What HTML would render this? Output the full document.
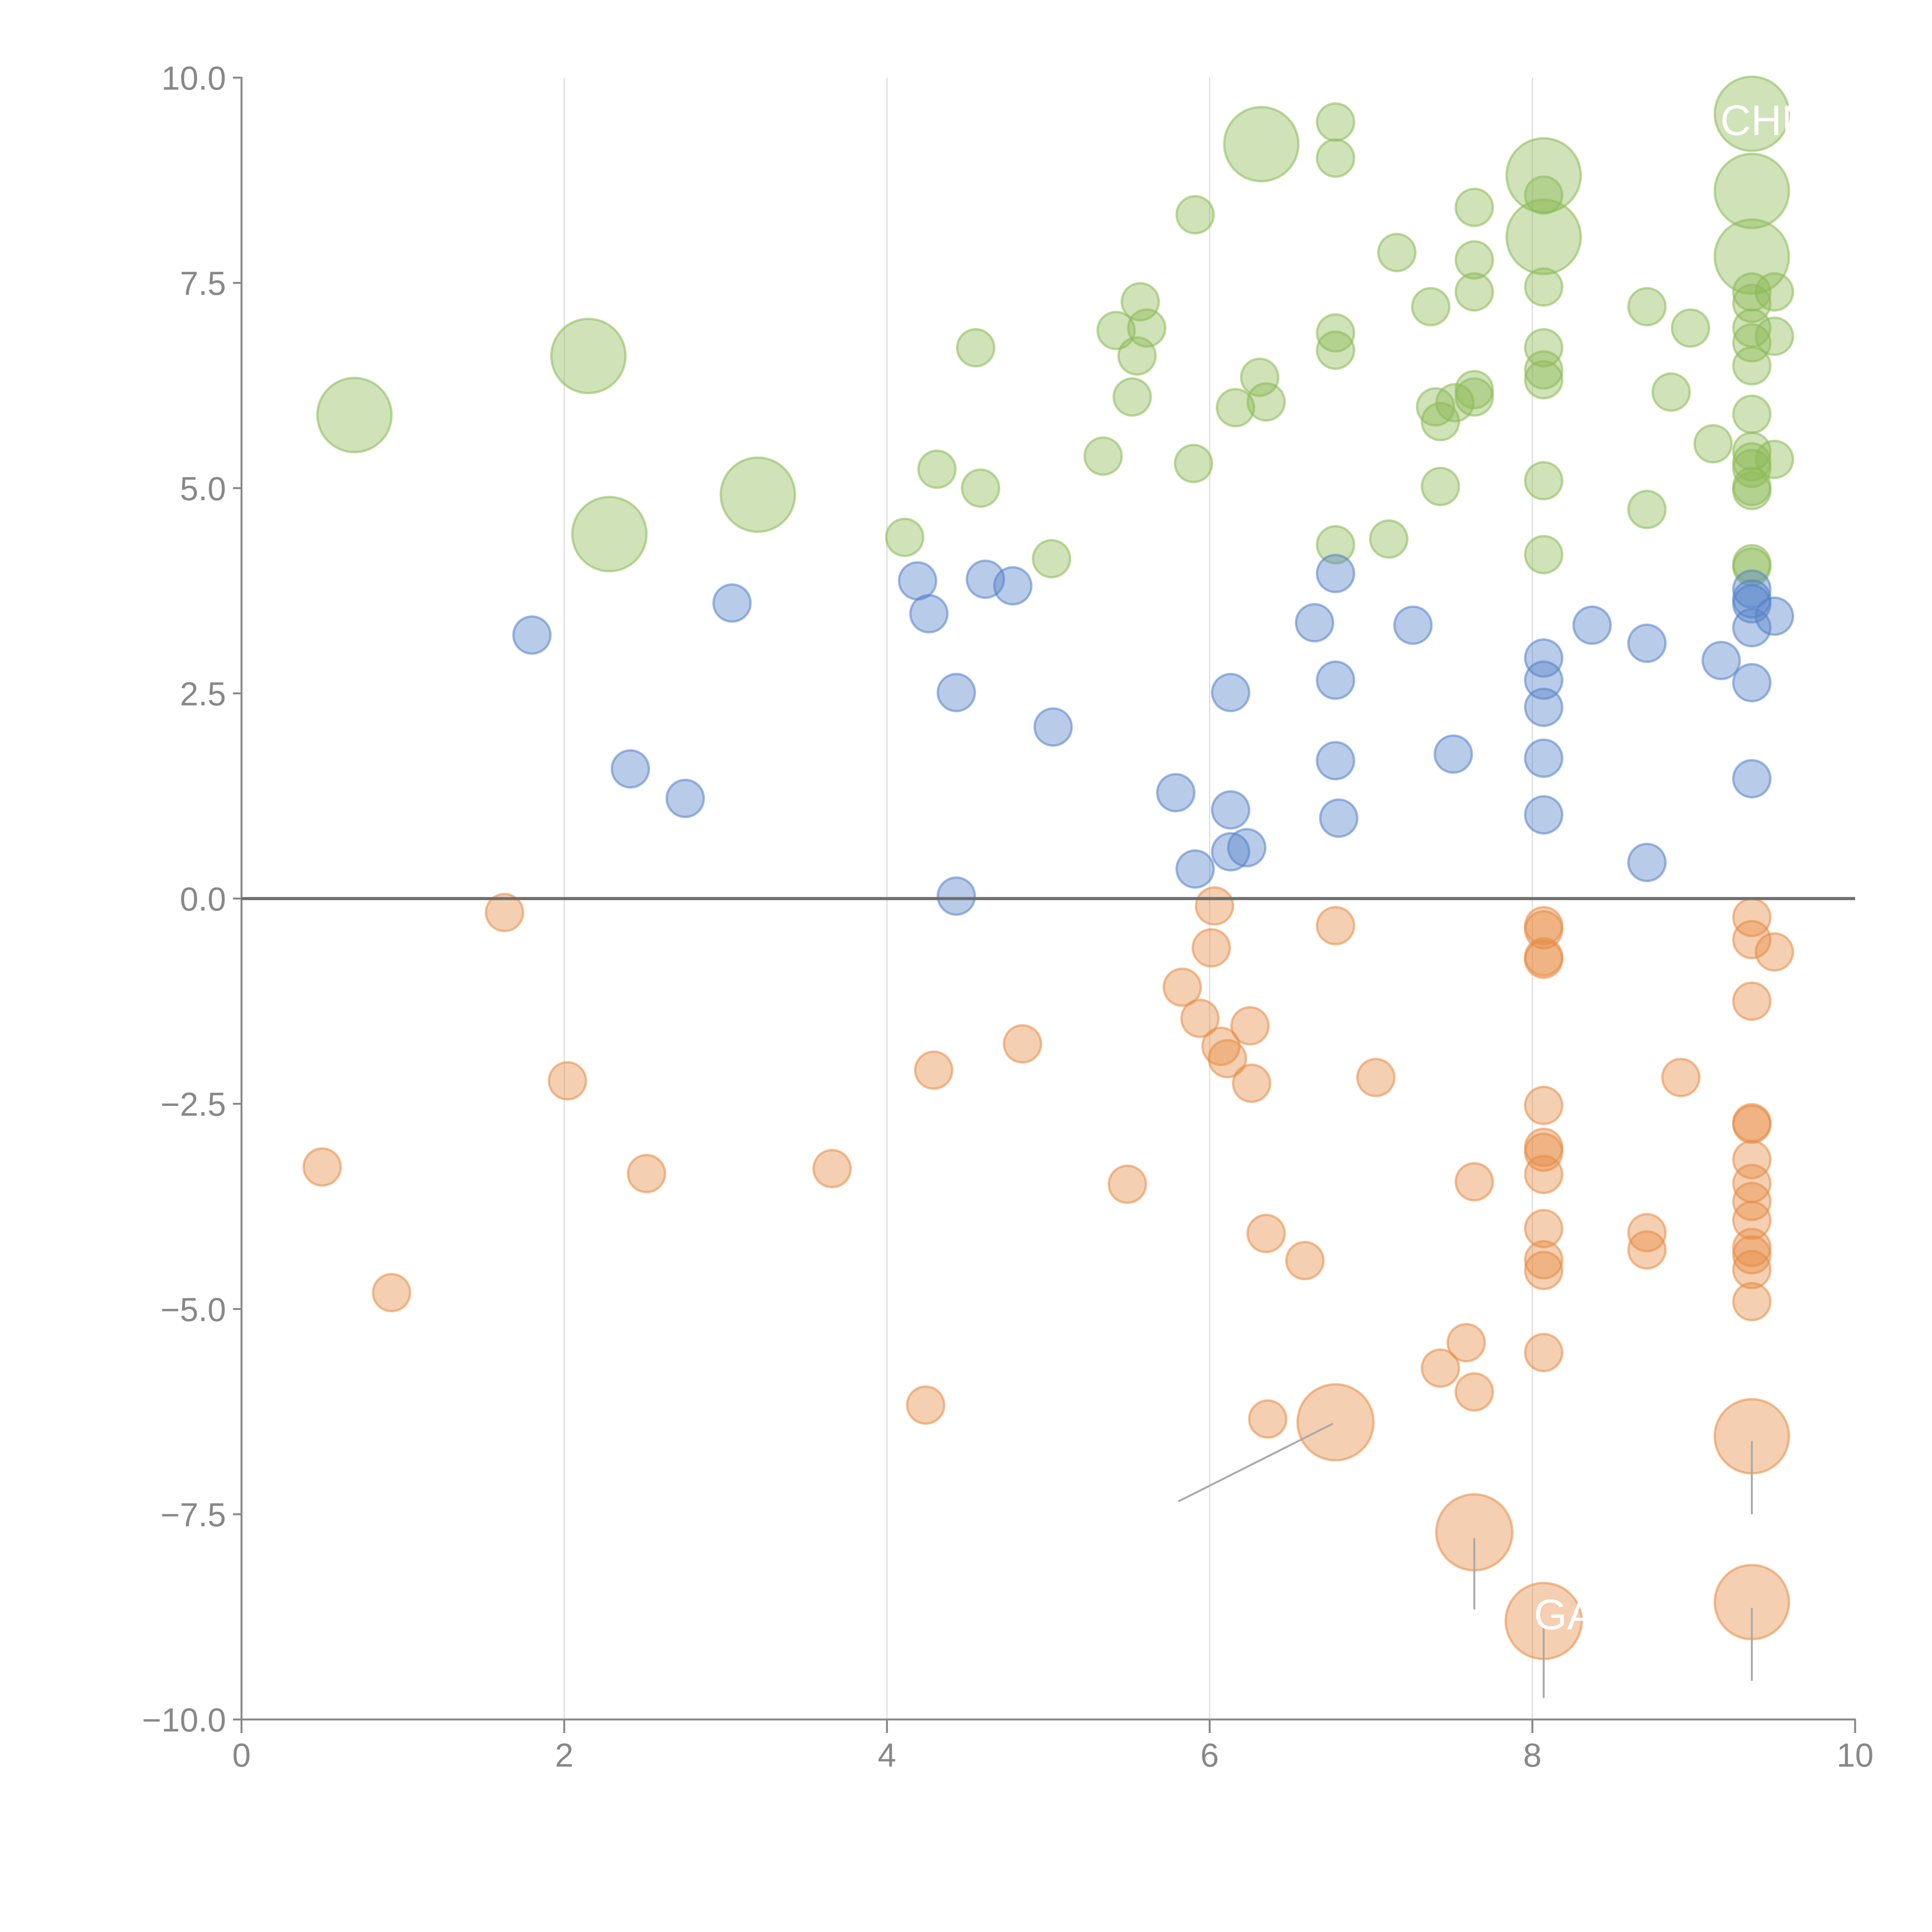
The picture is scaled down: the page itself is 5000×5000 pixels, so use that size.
<!DOCTYPE html>
<html><head><meta charset="utf-8"><style>html,body{margin:0;padding:0;background:#fff}svg{display:block}</style></head>
<body>
<svg id="chart" width="5000" height="5000" viewBox="0 0 5000 5000" xmlns="http://www.w3.org/2000/svg" font-family="Liberation Sans, sans-serif"></svg>
<script>
const xTicks=[0,2,4,6,8,10];
const yTicks=[10,7.5,5,2.5,0,-2.5,-5,-7.5,-10];
const yTickLabels=["10.0","7.5","5.0","2.5","0.0","\u22122.5","\u22125.0","\u22127.5","\u221210.0"];
const greenX=[0.70,2.15,2.28,3.20,4.11,4.31,4.55,4.58,5.02,5.34,5.42,5.52,5.55,5.57,5.61,5.90,5.91,6.16,6.31,6.35,6.32,6.78,6.78,6.78,6.78,6.78,7.11,7.16,7.37,7.40,7.43,7.43,7.52,7.64,7.64,7.64,7.64,7.64,8.07,8.07,8.07,8.07,8.07,8.07,8.07,8.07,8.07,8.71,8.71,8.86,8.98,9.12,9.36,9.36,9.36,9.36,9.36,9.36,9.36,9.36,9.36,9.36,9.36,9.36,9.36,9.36,9.36,9.36,9.50,9.50,9.50];
const greenY=[5.89,6.61,4.44,4.92,4.40,5.23,6.71,5.00,4.14,5.39,6.92,6.11,6.61,7.27,6.95,5.30,8.33,5.98,6.35,6.05,9.19,9.46,9.02,6.89,6.68,4.31,4.38,7.87,7.21,5.99,5.81,5.02,6.04,8.42,7.78,7.39,6.20,6.11,8.81,8.06,8.57,7.45,6.71,6.44,6.32,5.09,4.19,7.21,4.74,6.17,6.95,5.54,9.56,8.62,7.82,7.39,7.25,6.95,6.77,6.49,5.90,5.45,5.32,5.24,5.02,4.97,4.08,4.04,7.39,6.85,5.35];
const greenSize=[4,4,4,4,1,1,1,1,1,1,1,1,1,1,1,1,1,1,1,1,4,1,1,1,1,1,1,1,1,1,1,1,1,1,1,1,1,1,4,4,1,1,1,1,1,1,1,1,1,1,1,1,4,4,4,1,1,1,1,1,1,1,1,1,1,1,1,1,1,1,1];
const blueX=[1.80,2.41,2.75,3.04,4.19,4.26,4.43,4.43,4.61,4.78,5.03,5.79,5.91,6.13,6.13,6.13,6.23,6.65,6.78,6.78,6.78,6.80,7.26,7.51,8.07,8.07,8.07,8.07,8.07,8.37,8.71,8.71,9.17,9.36,9.36,9.36,9.36,9.36,9.36,9.50];
const blueY=[3.21,1.58,1.22,3.60,3.87,3.47,2.51,0.03,3.89,3.81,2.09,1.29,0.36,2.51,1.08,0.57,0.62,3.36,3.96,2.66,1.68,0.98,3.33,1.76,2.93,2.66,2.33,1.71,1.02,3.33,3.11,0.44,2.90,3.77,3.65,3.59,3.30,2.63,1.46,3.44];
const orangeX=[0.50,0.93,1.63,2.02,2.51,3.66,4.24,4.29,4.84,5.49,5.83,5.94,6.01,6.03,6.07,6.11,6.25,6.26,6.35,6.36,6.59,6.78,6.78,7.03,7.43,7.59,7.64,7.64,7.64,8.07,8.07,8.07,8.07,8.07,8.07,8.07,8.07,8.07,8.07,8.07,8.07,8.07,8.71,8.71,8.92,9.36,9.36,9.36,9.36,9.36,9.36,9.36,9.36,9.36,9.36,9.36,9.36,9.36,9.36,9.36,9.50];
const orangeY=[-3.27,-4.80,-0.17,-2.22,-3.35,-3.29,-6.17,-2.09,-1.77,-3.48,-1.08,-1.46,-0.60,-0.09,-1.80,-1.95,-1.55,-2.25,-4.08,-6.34,-4.41,-0.33,-6.38,-2.18,-5.72,-5.41,-3.45,-6.01,-7.72,-0.33,-0.38,-0.71,-0.74,-2.52,-3.03,-3.09,-3.36,-4.02,-4.40,-4.53,-5.53,-8.80,-4.07,-4.28,-2.18,-0.23,-0.50,-1.25,-2.73,-2.75,-3.18,-3.47,-3.69,-3.92,-4.25,-4.34,-4.52,-4.91,-6.55,-8.57,-0.65];
const orangeSize=[1,1,1,1,1,1,1,1,1,1,1,1,1,1,1,1,1,1,1,1,1,1,4.2,1,1,1,1,1,4.2,1,1,1,1,1,1,1,1,1,1,1,1,4.2,1,1,1,1,1,1,1,1,1,1,1,1,1,1,1,1,4,4,1];
const leaderX1=[6.76,7.64,8.07,9.36,9.36], leaderY1=[-6.40,-7.80,-8.88,-6.62,-8.65];
const leaderX2=[5.81,7.64,8.07,9.36,9.36], leaderY2=[-7.34,-8.65,-9.73,-7.49,-9.52];

const X0=625,X1=4801,Y0=4450,Y1=201;
const sx=v=>X0+(v-0)/10*(X1-X0);
const sy=v=>Y0-(v+10)/20*(Y0-Y1);
const NS="http://www.w3.org/2000/svg";
const svg=document.getElementById('chart');
function mk(t,a,p){const e=document.createElementNS(NS,t);for(const k in a)e.setAttribute(k,a[k]);(p||svg).appendChild(e);return e;}

const grid=mk('g',{});


xTicks.forEach(t=>{if(t>0&&t<10){const l=mk('line',{x1:sx(t),x2:sx(t),y1:Y1,y2:Y0,stroke:'#dcdcdc','stroke-width':3},grid);

}});

const yax=mk('g',{});


mk('line',{x1:X0,x2:X0,y1:Y1-2,y2:Y0,stroke:'#888','stroke-width':5},yax);
yTicks.forEach((t,i)=>{mk('line',{x1:X0-22,x2:X0,y1:sy(t),y2:sy(t),stroke:'#888','stroke-width':5},yax);
const tx=mk('text',{x:X0-40,y:sy(t)+31,'text-anchor':'end','font-size':86,fill:'#888'},yax);tx.textContent=yTickLabels[i];

});

const xax=mk('g',{});


mk('line',{x1:X0,x2:X1+2,y1:Y0,y2:Y0,stroke:'#888','stroke-width':5},xax);
xTicks.forEach(t=>{mk('line',{x1:sx(t),x2:sx(t),y1:Y0,y2:Y0+35,stroke:'#888','stroke-width':5},xax);
const tx=mk('text',{x:sx(t),y:Y0+122,'text-anchor':'middle','font-size':86,fill:'#888'},xax);tx.textContent=String(t);

});

function series(name,xs,ys,ss,col){
  const g=mk('g',{});
  
  
  xs.forEach((x,i)=>{const r=48*Math.sqrt(ss?ss[i]:1);
    const c=mk('circle',{cx:sx(x),cy:sy(ys[i]),r:r,fill:col,'fill-opacity':0.42,stroke:col,'stroke-opacity':0.55,'stroke-width':6},g);
    
    });
}
series('green-series',greenX,greenY,greenSize,'rgb(140,185,85)');
series('blue-series',blueX,blueY,null,'rgb(85,130,200)');
series('orange-series',orangeX,orangeY,orangeSize,'rgb(230,140,70)');

const zl=mk('line',{x1:X0,x2:X1,y1:sy(0),y2:sy(0),stroke:'#6e6e6e','stroke-width':8});



const lg=mk('g',{});


leaderX1.forEach((x,i)=>{mk('line',{x1:sx(x),y1:sy(leaderY1[i]),x2:sx(leaderX2[i]),y2:sy(leaderY2[i]),stroke:'#aaa','stroke-width':5,'stroke-linecap':'round'},lg);});

const l1=mk('text',{x:sx(9.45),y:sy(9.3),'text-anchor':'middle','font-size':110,fill:'#fff'});l1.textContent='CHN';


const l2=mk('text',{x:sx(8.2),y:sy(-8.9),'text-anchor':'middle','font-size':110,fill:'#fff'});l2.textContent='GA';


</script>
</body></html>
